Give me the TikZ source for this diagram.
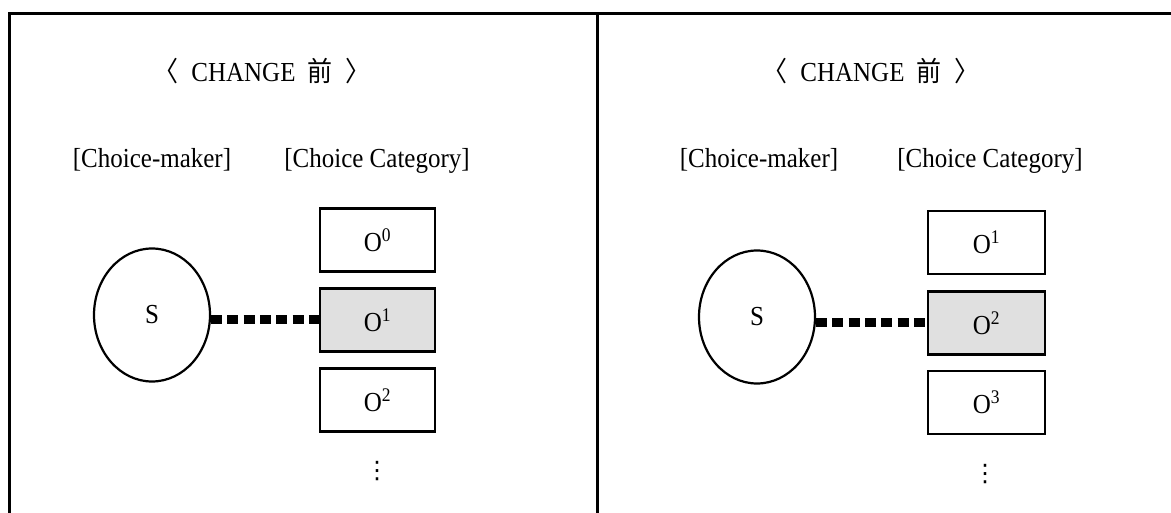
\documentclass[tikz,border=0pt]{standalone}
\usepackage{graphicx}
\usepackage{fontspec}
\setmainfont{Liberation Serif}
\newfontfamily\cjk{Noto Sans CJK SC}
\newfontfamily\symf{DejaVu Sans}
\usetikzlibrary{shapes.geometric}
\newcommand{\tallt}[1]{\scalebox{1}[1.1]{#1}}
\tikzset{
  txt/.style={font=\fontsize{25}{30}\selectfont, inner sep=0pt},
  frameline/.style={line width=3pt},
  optbox/.style={draw, line width=2.6pt, minimum width=115pt, minimum height=63pt, inner sep=0pt, font=\fontsize{25}{30}\selectfont},
  chosen/.style={optbox, fill=black!12},
  maker/.style={ellipse, draw, line width=2.2pt, minimum width=116pt, minimum height=133pt, inner sep=0pt, font=\fontsize{25}{30}\selectfont},
  link/.style={line width=9pt, dash pattern=on 11pt off 5.3pt},
  more/.style={font=\symf\fontsize{24}{24}\selectfont, inner sep=0pt},
}
\newcommand{\sups}[1]{\tallt{O\textsuperscript{#1}}}
\newcommand{\ttl}{\tallt{{\cjk 〈}\hspace{13pt}CHANGE\hspace{12pt}{\cjk 前}\hspace{13pt}{\cjk 〉}}}
\begin{document}
\begin{tikzpicture}[x=1pt,y=-1pt]
\useasboundingbox (0,0) rectangle (1171,513);
% frame
\draw[frameline] (9,513) -- (9,14) -- (1171,14);
\draw[frameline] (597,14) -- (597,513);

% left panel
\node[txt, anchor=base] (tL) at (262,82) {\ttl};
\node[txt, anchor=base] (cmL) at (152,168) {\tallt{[Choice-maker]}};
\node[txt, anchor=base] (ccL) at (377,168) {\tallt{[Choice Category]}};
\node[maker] (SL) at (152,315) {\tallt{S}};
\node[optbox] (aL) at (377.5,240) {\sups{0}};
\node[chosen] (bL) at (377.5,320) {\sups{1}};
\node[optbox] (cL) at (377.5,400) {\sups{2}};
\node[more] (dL) at (377,471) {⋮};
\draw[link] (SL.east |- bL.west) -- (bL.west);

% right panel
\node[txt, anchor=base] (tR) at (871,82) {\ttl};
\node[txt, anchor=base] (cmR) at (759,168) {\tallt{[Choice-maker]}};
\node[txt, anchor=base] (ccR) at (990,168) {\tallt{[Choice Category]}};
\node[maker] (SR) at (757,317) {\tallt{S}};
\node[optbox, minimum width=117pt] (aR) at (986.5,242.5) {\sups{1}};
\node[chosen, minimum width=117pt] (bR) at (986.5,323) {\sups{2}};
\node[optbox, minimum width=117pt] (cR) at (986.5,402.5) {\sups{3}};
\node[more] (dR) at (985,474) {⋮};
\draw[link] (SR.east |- bR.west) -- (bR.west);
\end{tikzpicture}
\end{document}
